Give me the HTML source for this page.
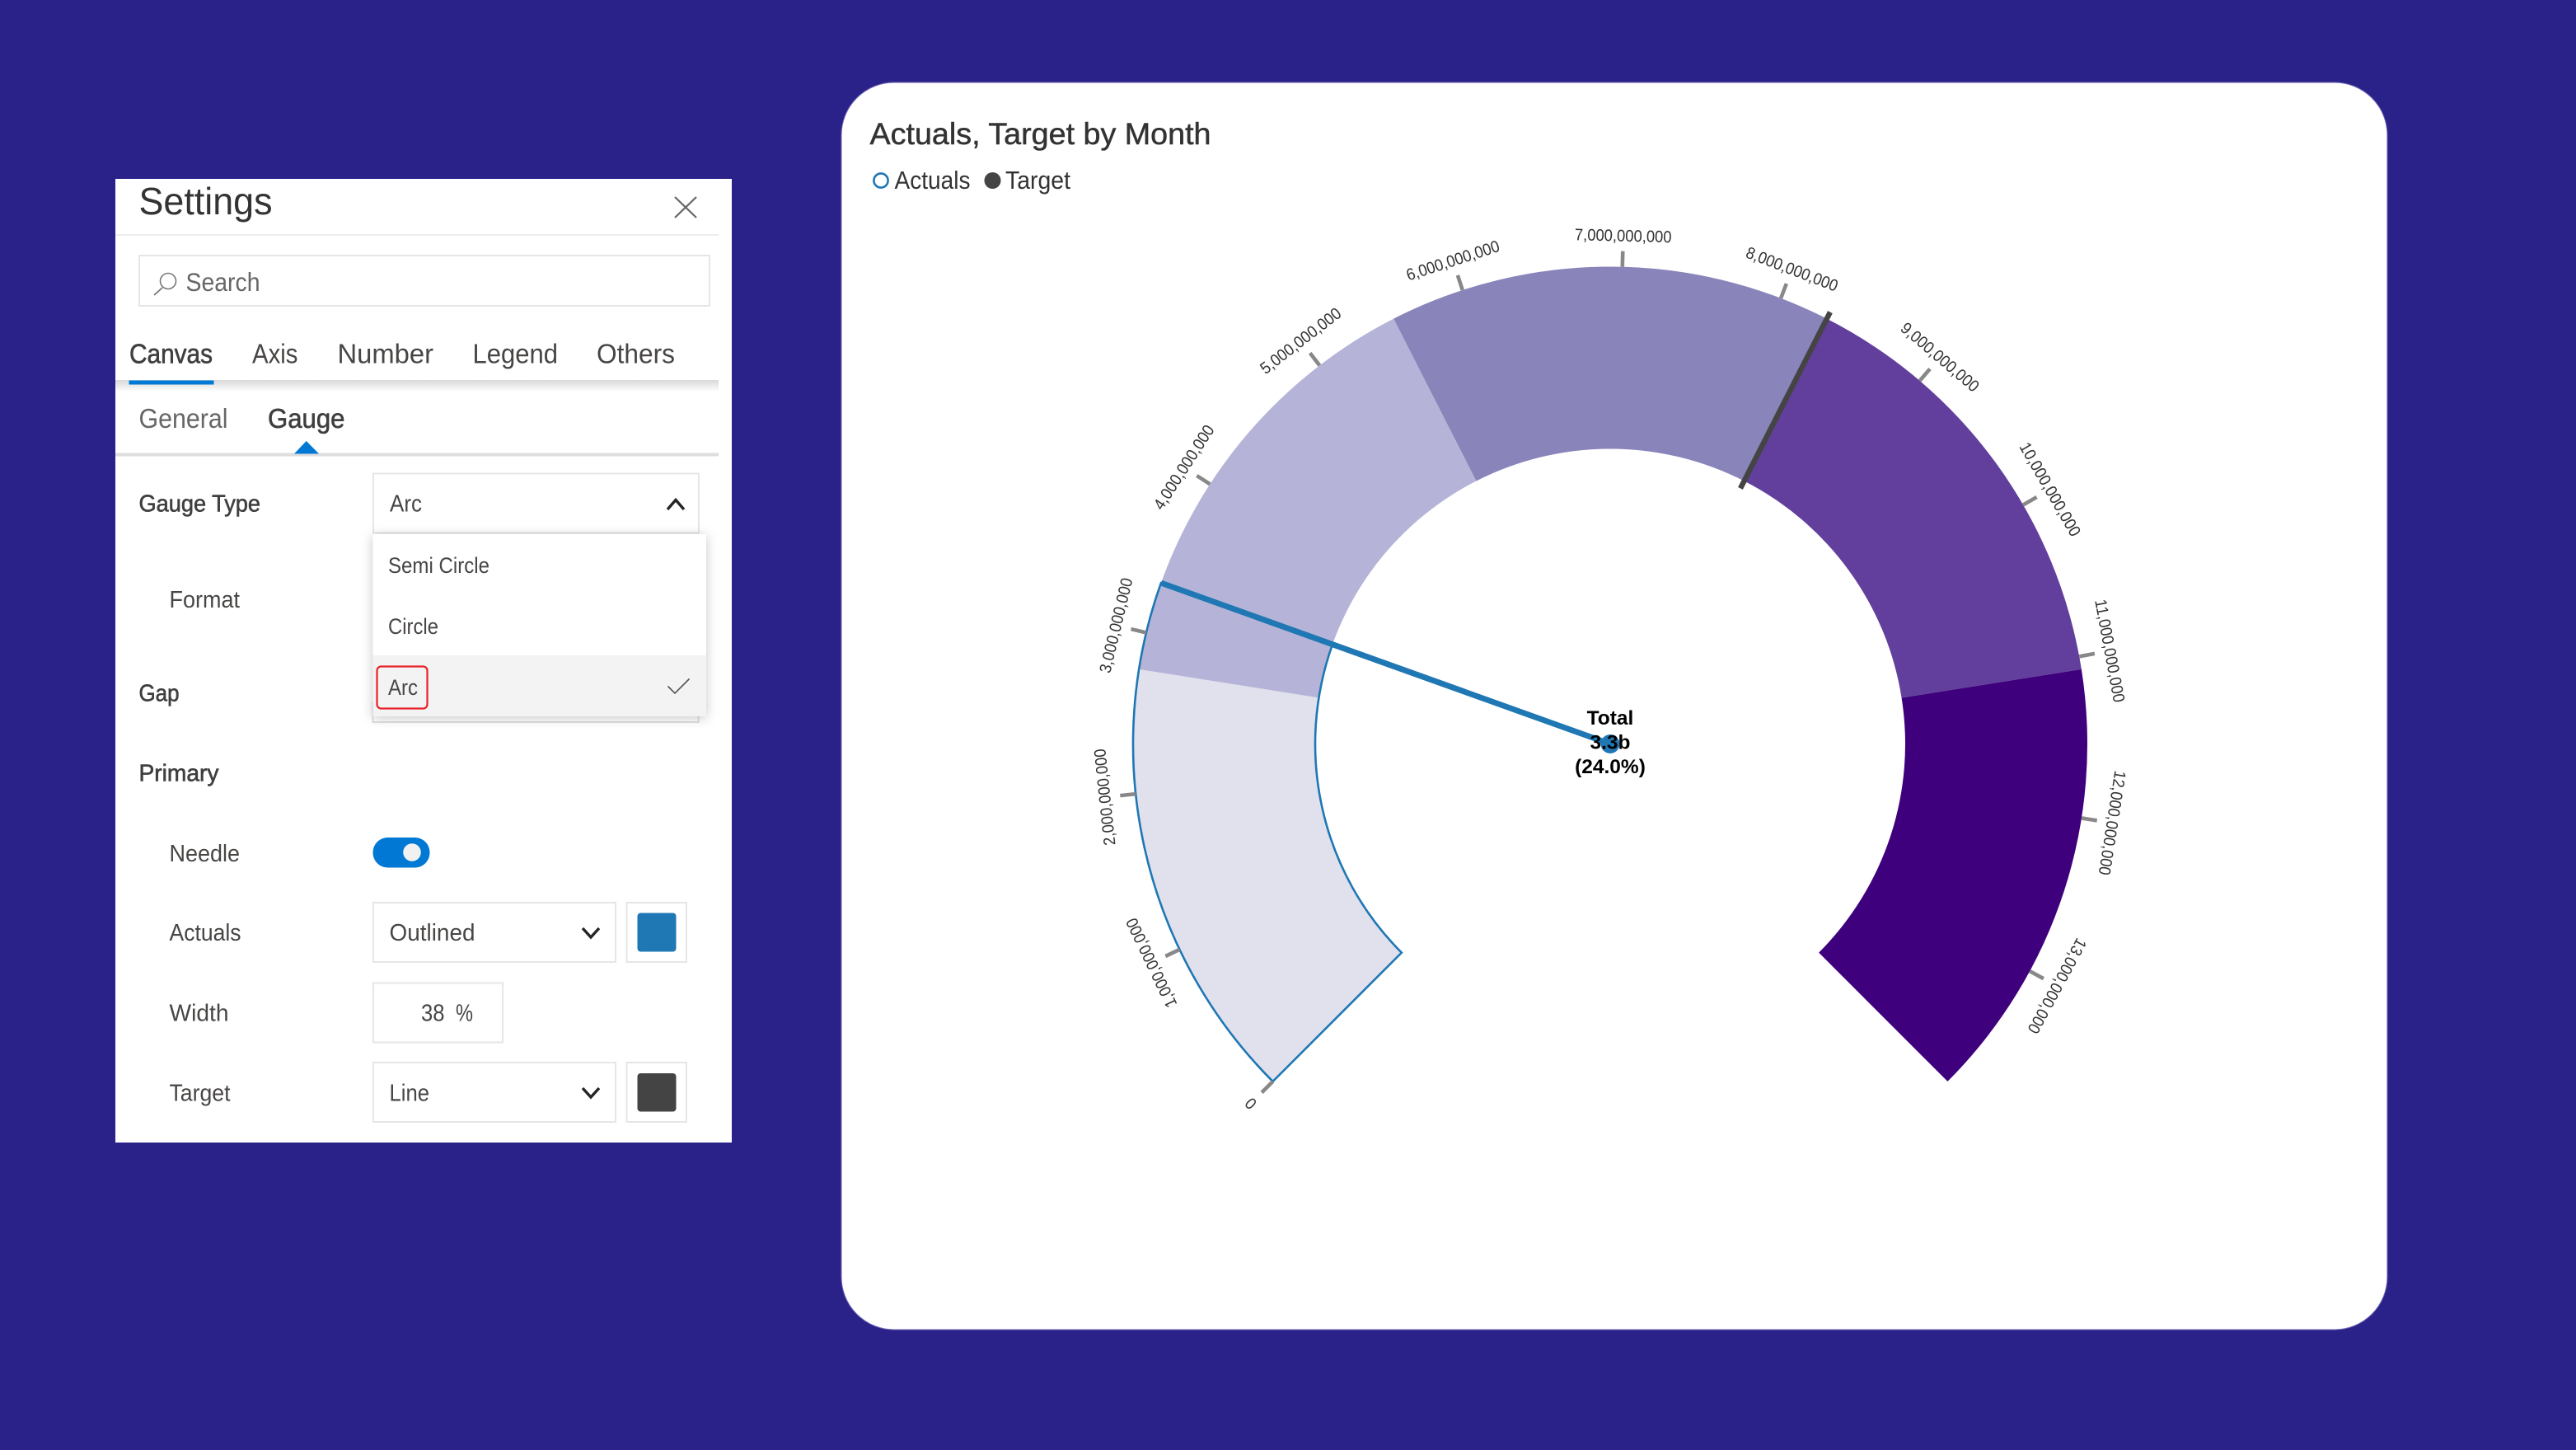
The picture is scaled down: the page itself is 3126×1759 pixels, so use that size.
<!DOCTYPE html>
<html lang="en">
<head>
<meta charset="utf-8">
<title>Actuals, Target by Month</title>
<style>
html,body{margin:0;padding:0;width:3126px;height:1759px;overflow:hidden;background:#2b2289}
svg{display:block;font-family:"Liberation Sans",sans-serif}
.l{font-size:28.5px;fill:#484644}
.sb{font-size:28.5px;fill:#3f3f3f;stroke:#3f3f3f;stroke-width:.6}
.tab{font-size:33px;fill:#484644}
.box{fill:#fff;stroke:#e6e6e6;stroke-width:2}
.chev{fill:none;stroke:#252423;stroke-width:3.4}
.dd{font-size:26.5px;fill:#484644}
</style>
</head>
<body>
<svg id="root" width="3126" height="1759" viewBox="0 0 3126 1759" xmlns="http://www.w3.org/2000/svg">
  <defs>
    <linearGradient id="tabShade" x1="0" y1="0" x2="0" y2="1">
      <stop offset="0" stop-color="#000" stop-opacity=".13"/>
      <stop offset="1" stop-color="#000" stop-opacity="0"/>
    </linearGradient>
  </defs>
  <rect x="0" y="0" width="3126" height="1759" fill="#2b2289"/>

  <g>
    <rect x="140" y="217" width="748" height="1169" fill="#fff"/>
    <text x="168.5" y="260" font-size="46" fill="#333" textLength="162" lengthAdjust="spacingAndGlyphs">Settings</text>
    <path d="M819 239 L845 264 M845 239 L819 264" stroke="#666" stroke-width="2.2" fill="none"/>
    <rect x="140" y="284" width="732" height="2" fill="#eee"/>

    <g>
      <rect class="box" x="169" y="310" width="692" height="61"/>
      <circle cx="204" cy="341" r="9.5" fill="none" stroke="#777" stroke-width="1.6"/>
      <path d="M197 349 L187 358" stroke="#777" stroke-width="1.8"/>
      <text x="225.5" y="353" font-size="31.5" fill="#666" textLength="90" lengthAdjust="spacingAndGlyphs">Search</text>
    </g>

    <rect x="140" y="461" width="732" height="2" fill="#dcdcdc"/>
    <rect x="140" y="463" width="732" height="12" fill="url(#tabShade)"/>
    <text class="tab" x="157" y="440.5" style="fill:#3f3f3f;stroke:#3f3f3f;stroke-width:.6" textLength="101" lengthAdjust="spacingAndGlyphs">Canvas</text>
    <text class="tab" x="306" y="440.5" textLength="55.5" lengthAdjust="spacingAndGlyphs">Axis</text>
    <text class="tab" x="409.5" y="440.5" textLength="116.5" lengthAdjust="spacingAndGlyphs">Number</text>
    <text class="tab" x="573.5" y="440.5" textLength="103.5" lengthAdjust="spacingAndGlyphs">Legend</text>
    <text class="tab" x="724" y="440.5" textLength="95" lengthAdjust="spacingAndGlyphs">Others</text>
    <rect x="156.5" y="461.5" width="103" height="5" fill="#0078d4"/>

    <text class="tab" x="168.5" y="519" style="fill:#666" textLength="108" lengthAdjust="spacingAndGlyphs">General</text>
    <text class="tab" x="325" y="519" style="fill:#3f3f3f;stroke:#3f3f3f;stroke-width:.6" textLength="93.5" lengthAdjust="spacingAndGlyphs">Gauge</text>
    <rect x="140" y="549.5" width="732" height="4" fill="#dedede"/>
    <path d="M371.7 535 L387 550.5 L357 550.5 Z" fill="#0078d4"/>

    <text class="sb" x="168.5" y="620.5" textLength="147.5" lengthAdjust="spacingAndGlyphs">Gauge Type</text>
    <rect x="452.5" y="852" width="395" height="24" fill="#fff" stroke="#e0e0e0" stroke-width="2"/>
    <g>
      <rect class="box" x="453" y="574.5" width="395" height="72"/>
      <text class="l" x="473" y="620.5" textLength="39" lengthAdjust="spacingAndGlyphs">Arc</text>
      <path class="chev" d="M810 618 L820 606.5 L830 618"/>
    </g>

    <g>
      <rect x="452.5" y="648" width="404.5" height="221" fill="#fff" style="filter:drop-shadow(0 2px 7px rgba(0,0,0,.22))"/>
      <rect x="452.5" y="795" width="404.5" height="74" fill="#f3f3f3"/>
      <text class="dd" x="471" y="695" textLength="123" lengthAdjust="spacingAndGlyphs">Semi Circle</text>
      <text class="dd" x="471" y="769" textLength="61" lengthAdjust="spacingAndGlyphs">Circle</text>
      <text class="dd" x="471" y="843" textLength="36" lengthAdjust="spacingAndGlyphs">Arc</text>
      <rect x="457.5" y="808.5" width="61" height="51" rx="5" fill="none" stroke="#e8222a" stroke-width="2.2"/>
      <path d="M810.5 832.5 L819 841 L836.5 823.5" fill="none" stroke="#555" stroke-width="1.6"/>
    </g>

    <text class="l" x="205.5" y="737" textLength="85.5" lengthAdjust="spacingAndGlyphs">Format</text>
    <text class="sb" x="168.5" y="850.5" textLength="49" lengthAdjust="spacingAndGlyphs">Gap</text>
    <text class="sb" x="168.5" y="947.5" textLength="97" lengthAdjust="spacingAndGlyphs">Primary</text>

    <text class="l" x="205.5" y="1045" textLength="85.5" lengthAdjust="spacingAndGlyphs">Needle</text>
    <g>
      <rect x="452.5" y="1016" width="69" height="36.5" rx="18" fill="#0078d4"/>
      <circle cx="500" cy="1034" r="10.8" fill="#f1f1f1"/>
    </g>

    <text class="l" x="205.5" y="1141" textLength="87" lengthAdjust="spacingAndGlyphs">Actuals</text>
    <g>
      <rect class="box" x="453" y="1095" width="294" height="72"/>
      <text class="l" x="472.5" y="1141" textLength="104" lengthAdjust="spacingAndGlyphs">Outlined</text>
      <path class="chev" d="M707 1126 L717 1137 L727 1126"/>
    </g>
    <g>
      <rect class="box" x="760.5" y="1095" width="72.5" height="72"/>
      <rect x="773.5" y="1107.5" width="47" height="47" rx="4" fill="#1f77b4"/>
    </g>

    <text class="l" x="205.5" y="1238.5" textLength="72" lengthAdjust="spacingAndGlyphs">Width</text>
    <g>
      <rect class="box" x="453" y="1192.5" width="157" height="72"/>
      <text class="l" x="511" y="1238.5" textLength="28.5" lengthAdjust="spacingAndGlyphs">38</text>
      <text class="l" x="553" y="1238.5" textLength="21" lengthAdjust="spacingAndGlyphs">%</text>
    </g>

    <text class="l" x="205.5" y="1335.5" textLength="74" lengthAdjust="spacingAndGlyphs">Target</text>
    <g>
      <rect class="box" x="453" y="1289" width="294" height="72"/>
      <text class="l" x="472.5" y="1335.5" textLength="48.5" lengthAdjust="spacingAndGlyphs">Line</text>
      <path class="chev" d="M707 1320 L717 1331 L727 1320"/>
    </g>
    <g>
      <rect class="box" x="760.5" y="1289" width="72.5" height="72"/>
      <rect x="773.5" y="1302" width="47" height="46.5" rx="4" fill="#444"/>
    </g>
  </g>

  <g id="chart-card">
    <rect x="1021" y="100" width="1876" height="1513" rx="64" ry="64" fill="#fff" stroke="#6f65b5" stroke-width="1"/>
    <text x="1055.5" y="175" font-size="37" fill="#333" stroke="#333" stroke-width=".5" textLength="414" lengthAdjust="spacingAndGlyphs">Actuals, Target by Month</text>
    <g>
      <g>
        <circle cx="1069" cy="219" r="8.6" fill="#fff" stroke="#1f77b4" stroke-width="2.6"/>
        <text x="1085.5" y="229" font-size="30.5" fill="#333" textLength="92" lengthAdjust="spacingAndGlyphs">Actuals</text>
      </g>
      <g>
        <circle cx="1204.5" cy="219" r="10" fill="#444"/>
        <text x="1220" y="229" font-size="30.5" fill="#333" textLength="79" lengthAdjust="spacingAndGlyphs">Target</text>
      </g>
    </g>
    <g id="gauge"></g>
  </g>
</svg>

<script>
// Chart data
const axisMax = 13850000000;
const bandBreaks = [0, 2770000000, 5540000000, 8310000000, 11080000000, 13850000000];
const bandColors = ['#e1e1ee', '#b5b4d8', '#8985bb', '#623f9c', '#3f007d'];
const actualValue = 3320000000;
const targetValue = 8310000000;
const tickValues = [0, 1000000000, 2000000000, 3000000000, 4000000000, 5000000000, 6000000000, 7000000000, 8000000000, 9000000000, 10000000000, 11000000000, 12000000000, 13000000000];
const tickLabels = ['0', '1,000,000,000', '2,000,000,000', '3,000,000,000', '4,000,000,000', '5,000,000,000', '6,000,000,000', '7,000,000,000', '8,000,000,000', '9,000,000,000', '10,000,000,000', '11,000,000,000', '12,000,000,000', '13,000,000,000'];
const centerTitle = 'Total';

// Geometry
const cx = 1954, cy = 902.5, outerR = 579, innerR = 358;
const SVGNS = 'http://www.w3.org/2000/svg';
const gauge = document.getElementById('gauge');

function angleScale(v) { return -135 + 270 * v / axisMax; }
function polar(r, deg) {
  const a = deg * Math.PI / 180;
  return [cx + r * Math.sin(a), cy - r * Math.cos(a)];
}
function bandPath(v0, v1) {
  const a0 = angleScale(v0), a1 = angleScale(v1);
  const large = a1 - a0 > 180 ? 1 : 0;
  const p0 = polar(outerR, a0), p1 = polar(outerR, a1), p2 = polar(innerR, a1), p3 = polar(innerR, a0);
  return 'M' + p0[0] + ' ' + p0[1] +
    ' A' + outerR + ' ' + outerR + ' 0 ' + large + ' 1 ' + p1[0] + ' ' + p1[1] +
    ' L' + p2[0] + ' ' + p2[1] +
    ' A' + innerR + ' ' + innerR + ' 0 ' + large + ' 0 ' + p3[0] + ' ' + p3[1] + ' Z';
}
function make(tag, attrs) {
  const el = document.createElementNS(SVGNS, tag);
  for (const k in attrs) el.setAttribute(k, attrs[k]);
  gauge.appendChild(el);
  return el;
}

// Bands
for (let i = 0; i < bandColors.length; i++) {
  const el = make('path', { d: bandPath(bandBreaks[i], bandBreaks[i + 1]), fill: bandColors[i] });
  
  
}

// Actual outline
const actualArc = make('path', { d: bandPath(0, actualValue), fill: 'none', stroke: '#1f77b4', 'stroke-width': 2.6, 'stroke-linejoin': 'miter' });



// Ticks and labels
for (let i = 0; i < tickValues.length; i++) {
  const a = angleScale(tickValues[i]);
  const p0 = polar(outerR, a), p1 = polar(outerR + 19, a);
  const tick = make('line', { x1: p0[0], y1: p0[1], x2: p1[0], y2: p1[1], stroke: '#888', 'stroke-width': 4.6 });
  
  
  const label = make('text', {
    transform: 'translate(' + cx + ' ' + cy + ') rotate(' + a + ') translate(0 -610)',
    'text-anchor': 'middle', 'font-size': 20, fill: '#333'
  });
  label.textContent = tickLabels[i];
  const labelWidth = label.getComputedTextLength() * 0.92;
  label.setAttribute('textLength', labelWidth);
  label.setAttribute('lengthAdjust', 'spacingAndGlyphs');
  
  
}

// Target line
const ta = angleScale(targetValue);
const t0 = polar(348, ta), t1 = polar(588, ta);
const targetLine = make('line', { x1: t0[0], y1: t0[1], x2: t1[0], y2: t1[1], stroke: '#444', 'stroke-width': 6.5 });



// Needle
const na = angleScale(actualValue);
const n1 = polar(outerR, na);
const needle = make('line', { x1: cx, y1: cy, x2: n1[0], y2: n1[1], stroke: '#1f77b4', 'stroke-width': 7 });


const hub = make('circle', { cx: cx, cy: cy, r: 11.5, fill: '#1f77b4' });



// Center text
const centerLines = [centerTitle, (actualValue / 1e9).toFixed(1) + 'b', '(' + (actualValue / axisMax * 100).toFixed(1) + '%)'];
for (let i = 0; i < centerLines.length; i++) {
  const c = make('text', { x: cx, y: 879 + i * 29.5, 'text-anchor': 'middle', 'font-size': 24.5, 'font-weight': 'bold', fill: '#000' });
  c.textContent = centerLines[i];
  
  
}
</script>
</body>
</html>
